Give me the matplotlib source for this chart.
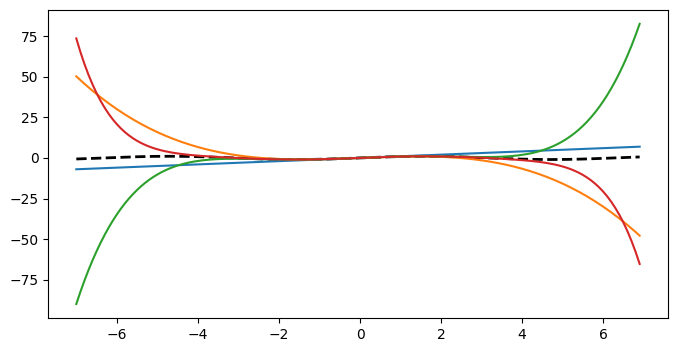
import matplotlib
matplotlib.use("Agg")
import matplotlib.pyplot as plt
import numpy as np
from math import factorial

# x range of the curves
x_start = -7
x_stop = 7
x_step = 0.1

# Taylor terms of sin(x): exponents and signs
exponents = [1, 3, 5, 7]
signs = [1, -1, 1, -1]
colors = ['C0', 'C1', 'C2', 'C3']

x = np.arange(x_start, x_stop, x_step)

fig, ax = plt.subplots(figsize=(6.78, 3.51), dpi=100)
fig.subplots_adjust(left=0.071, right=0.985, top=0.972, bottom=0.094)

ax.plot(x, np.sin(x), 'k--', linewidth=2)

y = np.zeros_like(x)
for n, s, c in zip(exponents, signs, colors):
    y = y + s * x ** n / factorial(n)
    ax.plot(x, y, color=c)

fig.savefig('out.png', dpi=100)
